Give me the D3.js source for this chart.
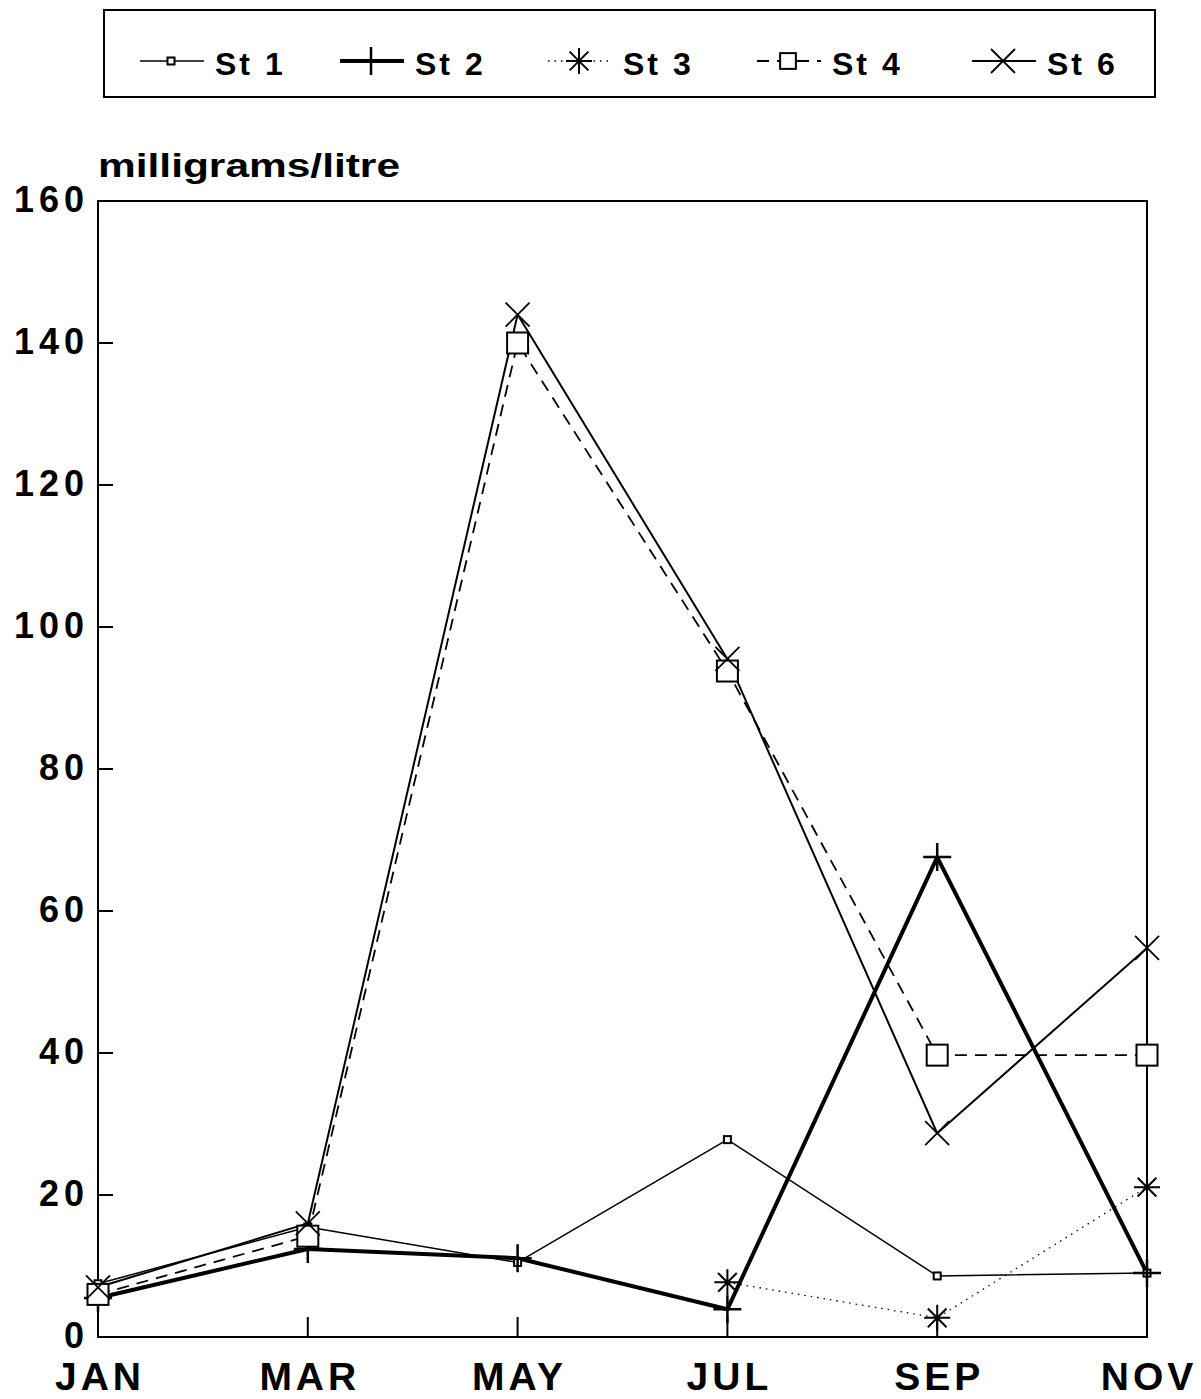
<!DOCTYPE html>
<html>
<head>
<meta charset="utf-8">
<script src="https://cdn.jsdelivr.net/npm/d3@7"></script>
<style>
  body { margin: 0; background: #fff; }
  text { font-family: "Liberation Sans", Arial, Helvetica, sans-serif; font-weight: bold; fill: #000; }
</style>
</head>
<body>
<div id="app"></div>
<script>
// data
const MONTHS = ['JAN', 'MAR', 'MAY', 'JUL', 'SEP', 'NOV'];
const Y_TICKS = [0, 20, 40, 60, 80, 100, 120, 140, 160];
const ST1 = [7.5, 15.5, 10.5, 27.8, 8.6, 9];
const ST2 = [5.5, 12.4, 11.1, 3.9, 67.6, 9];
const ST3 = [null, null, null, 7.7, 2.7, 21.1];
const ST4 = [6.0, 14.2, 140, 93.8, 39.7, 39.7];
const ST6 = [7, 16, 144, 95.5, 28.7, 54.8];

const SERIES = [
  {name: 'St 1', values: ST1, marker: 'dot',      width: 1.5, dash: null},
  {name: 'St 2', values: ST2, marker: 'plus',     width: 4,   dash: null},
  {name: 'St 3', values: ST3, marker: 'asterisk', width: 1.3, dash: '1.5,5'},
  {name: 'St 4', values: ST4, marker: 'square',   width: 1.8, dash: '12,8'},
  {name: 'St 6', values: ST6, marker: 'cross',    width: 2,   dash: null}
];

const W = 1201, H = 1399;
const plot = {left: 98, right: 1147, top: 201, bottom: 1337};

const x = d3.scalePoint()
    .domain(MONTHS)
    .range([plot.left, plot.right]);

const y = d3.scaleLinear()
    .domain([0, 160])
    .range([plot.bottom, plot.top]);

const svg = d3.select('#app').append('svg')
    .attr('width', W)
    .attr('height', H);

// marker drawing, centred on (cx, cy)
function drawMarker(g, type, cx, cy, s) {
  s = s || 1;
  const k = g.append('g')
      .attr('transform', `translate(${cx},${cy})`)
      .attr('stroke', '#000')
      .attr('fill', 'none');
  if (type === 'dot') {
    k.append('rect').attr('x', -3.5 * s).attr('y', -3.5 * s)
        .attr('width', 7 * s).attr('height', 7 * s)
        .attr('fill', '#fff').attr('stroke-width', 2);
  } else if (type === 'plus') {
    k.append('path').attr('d', `M${-14*s},0H${14*s}M0,${-14*s}V${14*s}`).attr('stroke-width', 2.5);
  } else if (type === 'asterisk') {
    const r = 13 * s, d = r * 0.72;
    k.append('path')
        .attr('d', `M${-r},0H${r}M0,${-r}V${r}M${-d},${-d}L${d},${d}M${-d},${d}L${d},${-d}`)
        .attr('stroke-width', 2);
  } else if (type === 'square') {
    k.append('rect').attr('x', -10.5 * s).attr('y', -10.5 * s)
        .attr('width', 21 * s).attr('height', 21 * s)
        .attr('fill', '#fff').attr('stroke-width', 2);
  } else if (type === 'cross') {
    const r = 12 * s;
    k.append('path').attr('d', `M${-r},${-r}L${r},${r}M${-r},${r}L${r},${-r}`).attr('stroke-width', 1.8);
  }
}

// legend
svg.append('rect')
    .attr('x', 104).attr('y', 10)
    .attr('width', 1051).attr('height', 87)
    .attr('fill', 'none').attr('stroke', '#000').attr('stroke-width', 2);

const LEGEND_X = [140, 340, 548, 757, 972];
SERIES.forEach((s, i) => {
  const lx = LEGEND_X[i], ly = 61;
  svg.append('line')
      .attr('x1', lx).attr('x2', lx + 64)
      .attr('y1', ly).attr('y2', ly)
      .attr('stroke', '#000')
      .attr('stroke-width', s.width)
      .attr('stroke-dasharray', s.dash);
  drawMarker(svg, s.marker, lx + 31, ly, s.marker === 'square' ? 0.75 : 1);
  svg.append('text')
      .attr('x', lx + 75).attr('y', 75)
      .attr('font-size', 32)
      .attr('letter-spacing', 3)
      .text(s.name);
});

// frame
svg.append('rect')
    .attr('x', plot.left).attr('y', plot.top)
    .attr('width', plot.right - plot.left)
    .attr('height', plot.bottom - plot.top)
    .attr('fill', 'none').attr('stroke', '#000').attr('stroke-width', 2);

// y ticks (inward) and labels
svg.selectAll('.ytick')
    .data(Y_TICKS.slice(1, -1))
  .enter().append('line')
    .attr('class', 'ytick')
    .attr('x1', plot.left).attr('x2', plot.left + 15)
    .attr('y1', d => y(d)).attr('y2', d => y(d))
    .attr('stroke', '#000').attr('stroke-width', 2);

svg.selectAll('.ylabel')
    .data(Y_TICKS)
  .enter().append('text')
    .attr('class', 'ylabel')
    .attr('x', 89)
    .attr('y', d => y(d) - 2)
    .attr('dy', '0.36em')
    .attr('font-size', 36)
    .attr('letter-spacing', 5)
    .style('text-anchor', 'end')
    .text(d => d);

// x ticks (upward) and labels
svg.selectAll('.xtick')
    .data(MONTHS.slice(1, -1))
  .enter().append('line')
    .attr('class', 'xtick')
    .attr('x1', d => x(d)).attr('x2', d => x(d))
    .attr('y1', plot.bottom).attr('y2', plot.bottom - 20)
    .attr('stroke', '#000').attr('stroke-width', 2);

svg.selectAll('.xlabel')
    .data(MONTHS)
  .enter().append('text')
    .attr('class', 'xlabel')
    .attr('x', d => x(d) + 2)
    .attr('y', 1390)
    .attr('font-size', 39)
    .attr('letter-spacing', 4)
    .style('text-anchor', 'middle')
    .text(d => d);

// axis title
svg.append('text')
    .attr('x', 98).attr('y', 177)
    .attr('font-size', 34)
    .attr('textLength', 302)
    .attr('lengthAdjust', 'spacingAndGlyphs')
    .text('milligrams/litre');

// lines
const line = d3.line()
    .defined(d => d.v != null)
    .x(d => x(d.m))
    .y(d => y(d.v));

SERIES.forEach(s => {
  const pts = s.values.map((v, i) => ({m: MONTHS[i], v}));
  svg.append('path')
      .datum(pts)
      .attr('d', line)
      .attr('fill', 'none')
      .attr('stroke', '#000')
      .attr('stroke-width', s.width)
      .attr('stroke-linejoin', 'round')
      .attr('stroke-dasharray', s.dash);
});

// markers on top
SERIES.forEach(s => {
  s.values.forEach((v, i) => {
    if (v == null) return;
    drawMarker(svg, s.marker, x(MONTHS[i]), y(v));
  });
});
</script>
</body>
</html>
